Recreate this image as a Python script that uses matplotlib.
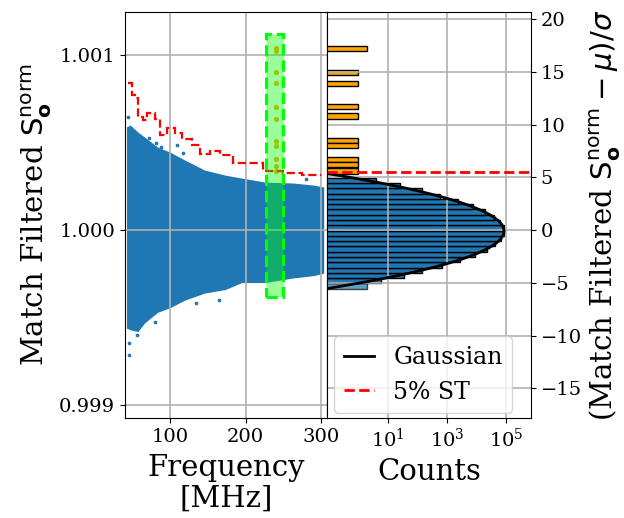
import numpy as np
import matplotlib
matplotlib.use("Agg")
import matplotlib.pyplot as plt
from matplotlib.patches import Rectangle
from matplotlib.ticker import NullLocator

plt.rcParams["font.family"] = "serif"
plt.rcParams["font.serif"] = ["DejaVu Serif"]

# envelope of the dense blue scatter band
band_freq = [43, 48, 58, 67, 84, 100, 120, 146, 173, 195, 226, 262, 290, 303]
band_upper = [1.000590, 1.000600, 1.000560, 1.000531, 1.000474, 1.000446, 1.000400,
              1.000343, 1.000314, 1.000297, 1.000274, 1.000269, 1.000257, 1.000246]
band_lower = [0.999440, 0.999430, 0.999420, 0.999470, 0.999530, 0.999556, 0.999600,
              0.999640, 0.999660, 0.999700, 0.999700, 0.999726, 0.999740, 0.999754]

# isolated points sticking out of the band
outlier_freq = [45, 73, 82, 88, 110, 117, 46, 46, 57, 80, 134, 165, 280]
outlier_s = [1.000646, 1.000526, 1.000495, 1.000476, 1.000486, 1.000438,
             0.999356, 0.999286, 0.999400, 0.999476, 0.999585, 0.999600, 1.000290]

# 5% ST threshold (step line)
st_edges = [45, 50, 54, 58, 65, 70, 81, 87, 96, 107, 116, 129, 140, 153, 166, 184,
            223, 250, 275, 300]
st_values = [1.000840, 1.000771, 1.000754, 1.000646, 1.000629, 1.000669, 1.000634,
             1.000543, 1.000583, 1.000554, 1.000520, 1.000486, 1.000434, 1.000451,
             1.000429, 1.000383, 1.000337, 1.000326, 1.000314]

# candidate points above threshold (sigma units)
cand_freq = [240, 240, 240, 240, 240, 240, 240, 240, 240, 240, 240]
cand_z = [17.3, 17.0, 15.0, 13.9, 11.7, 10.5, 8.4, 8.0, 6.7, 6.1, 5.6]

# histogram of (S - mu)/sigma
hist_z = [-5.3, -4.8, -4.3, -3.8, -3.3, -2.8, -2.3, -1.8, -1.3, -0.8, -0.3,
          0.2, 0.7, 1.2, 1.7, 2.2, 2.7, 3.2, 3.7, 4.2, 4.7]
hist_counts = [2, 6, 35, 145, 650, 2790, 8710, 21500, 42300, 65900, 81500,
               80000, 62300, 38500, 18900, 7380, 2280, 560, 140, 25, 4]
tail_z = [17.2, 14.9, 13.9, 11.7, 10.8, 8.5, 8.0, 6.7, 6.2, 5.6]
tail_counts = [2, 1, 1, 1, 1, 1, 1, 1, 1, 1]

gauss_amp, gauss_mu, gauss_sigma = 8.3e4, -0.09, 1.04
s_mu, s_sigma = 1.0, 6.03e-5
st_z = 5.5
box_freq = (227, 250)
box_s = (0.99962, 1.00112)

fig = plt.figure(figsize=(6.24, 5.18), dpi=100)
ax = fig.add_axes([0.2003, 0.193, 0.3245, 0.7838])
ax2 = fig.add_axes([0.5248, 0.193, 0.326, 0.7838])

blue = "#1f77b4"

# left: S vs frequency
ax.fill_between(band_freq, band_lower, band_upper, color=blue, lw=0, zorder=1)
ax.scatter(outlier_freq, outlier_s, s=7, color=blue, lw=0, zorder=1)
cand_s = s_mu + np.array(cand_z) * s_sigma
ax.scatter(cand_freq, cand_s, s=14, color="orange", lw=0, zorder=2)
ax.stairs(st_values, st_edges, baseline=None, color="red", ls="--", lw=1.6, zorder=2)
ax.add_patch(Rectangle((box_freq[0], box_s[0]), box_freq[1] - box_freq[0],
                       box_s[1] - box_s[0], facecolor=(0, 1, 0, 0.4),
                       edgecolor="lime", ls="--", lw=2.2, zorder=3))

ax.set_xlim(41, 308)
ax.set_ylim(0.998926, 1.001246)
ax.set_xticks([100, 200, 300])
ax.set_yticks([0.999, 1.000, 1.001])
ax.set_yticklabels(["0.999", "1.000", "1.001"])
ax.tick_params(labelsize=14)
ax.grid(True, color="#b0b0b0", lw=1.2)
ax.set_xlabel("Frequency\n[MHz]", fontsize=21, labelpad=6, linespacing=1.12)
ax.set_ylabel(r"Match Filtered $\mathrm{S}^{\mathrm{norm}}_{\mathbf{o}}$", fontsize=21)

# right: histogram in sigma units
bars = ax2.barh(hist_z, hist_counts, height=0.5, left=1e-3, color=blue,
                edgecolor="black", lw=1)
bars[0].set_alpha(0.7)
ax2.barh(tail_z, tail_counts, height=0.5, left=1e-3, color="orange",
         edgecolor="black", lw=1)
zz = np.linspace(-8, 8, 600)
ax2.plot(gauss_amp * np.exp(-0.5 * ((zz - gauss_mu) / gauss_sigma) ** 2), zz,
         color="black", lw=2, label="Gaussian")
ax2.axhline(st_z, color="red", ls="--", lw=2, label="5% ST")

ax2.set_xscale("log")
ax2.set_xlim(0.093, 6.7e5)
ax2.set_xticks([1e1, 1e3, 1e5])
ax2.xaxis.set_minor_locator(NullLocator())
lo, hi = ax.get_ylim()
ax2.set_ylim((lo - s_mu) / s_sigma, (hi - s_mu) / s_sigma)
ax2.set_yticks([-15, -10, -5, 0, 5, 10, 15, 20])
ax2.yaxis.tick_right()
ax2.yaxis.set_label_position("right")
ax2.tick_params(labelsize=14)
ax2.grid(True, color="#b0b0b0", lw=1.2)
ax2.set_xlabel("Counts", fontsize=21, labelpad=5)
ax2.set_ylabel(r"(Match Filtered $\mathrm{S}^{\mathrm{norm}}_{\mathbf{o}} - \mu)/\sigma$",
               fontsize=21)
ax2.legend(loc="lower right", bbox_to_anchor=(0.907, 0.012), borderaxespad=0,
           fontsize=17, handlelength=1.3)

fig.savefig("out.png", dpi=100)
